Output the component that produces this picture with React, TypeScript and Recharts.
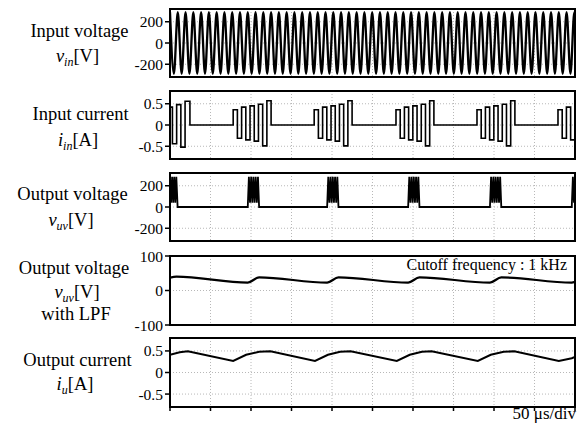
import { LineChart, Line, XAxis, YAxis, CartesianGrid, ReferenceArea } from 'recharts';

const FONT = '"Liberation Serif", "Times New Roman", Times, serif';

// time axis, µs (50 µs/div, 10 div)
const timeTicks = [0, 50, 100, 150, 200, 250, 300, 350, 400, 450, 500];

// input voltage: peaks of the fast sine, [µs, V]
const vinPeaks: [number, number][] = [
  [0, 290], [4.8, -290], [9.6, 290], [14.4, -290], [19.2, 290], [24, -290], [28.8, 290], [33.6, -290],
  [38.4, 290], [43.2, -290], [48, 290], [52.8, -290], [57.6, 290], [62.4, -290], [67.2, 290], [72, -290],
  [76.8, 290], [81.6, -290], [86.4, 290], [91.2, -290], [96, 290], [100.8, -290], [105.6, 290], [110.4, -290],
  [115.2, 290], [120, -290], [124.8, 290], [129.6, -290], [134.4, 290], [139.2, -290], [144, 290], [148.8, -290],
  [153.6, 290], [158.4, -290], [163.2, 290], [168, -290], [172.8, 290], [177.6, -290], [182.4, 290], [187.2, -290],
  [192, 290], [196.8, -290], [201.6, 290], [206.4, -290], [211.2, 290], [216, -290], [220.8, 290], [225.6, -290],
  [230.4, 290], [235.2, -290], [240, 290], [244.8, -290], [249.6, 290], [254.4, -290], [259.2, 290], [264, -290],
  [268.8, 290], [273.6, -290], [278.4, 290], [283.2, -290], [288, 290], [292.8, -290], [297.6, 290], [302.4, -290],
  [307.2, 290], [312, -290], [316.8, 290], [321.6, -290], [326.4, 290], [331.2, -290], [336, 290], [340.8, -290],
  [345.6, 290], [350.4, -290], [355.2, 290], [360, -290], [364.8, 290], [369.6, -290], [374.4, 290], [379.2, -290],
  [384, 290], [388.8, -290], [393.6, 290], [398.4, -290], [403.2, 290], [408, -290], [412.8, 290], [417.6, -290],
  [422.4, 290], [427.2, -290], [432, 290], [436.8, -290], [441.6, 290], [446.4, -290], [451.2, 290], [456, -290],
  [460.8, 290], [465.6, -290], [470.4, 290], [475.2, -290], [480, 290], [484.8, -290], [489.6, 290], [494.4, -290],
  [499.2, 290], [500, 270],
];

// input current, step points [µs, A]
const iinSteps: [number, number][] = [
  [0, 0.42], [3, -0.44], [8.2, 0.48], [13.4, -0.52], [18.6, 0.56], [24.6, 0],
  [78, 0.36], [83.2, -0.31], [88.4, 0.42], [93.6, -0.35], [98.8, 0.45], [104, -0.38], [109.2, 0.49], [114.4, -0.49], [119.6, 0.57], [124.8, 0],
  [178, 0.36], [183.2, -0.31], [188.4, 0.42], [193.6, -0.35], [198.8, 0.45], [204, -0.38], [209.2, 0.49], [214.4, -0.49], [219.6, 0.57], [224.8, 0],
  [279, 0.36], [284.2, -0.31], [289.4, 0.42], [294.6, -0.35], [299.8, 0.45], [305, -0.38], [310.2, 0.49], [315.4, -0.49], [320.6, 0.57], [325.8, 0],
  [379, 0.36], [384.2, -0.31], [389.4, 0.42], [394.6, -0.35], [399.8, 0.45], [405, -0.38], [410.2, 0.49], [415.4, -0.49], [420.6, 0.57], [425.8, 0],
  [479, 0.36], [484.2, -0.31], [489.4, 0.42], [494.6, -0.35], [499.8, 0.45], [500, 0.45],
];

// output voltage, [µs, V]
const vuvPoints: [number, number][] = [
  [0, 285], [1.3, 40], [2.6, 285], [3.9, 40], [5.2, 285], [6.5, 40], [7.8, 285], [9.4, 0],
  [96, 0], [97.4, 285], [98.8, 40], [100.2, 285], [101.6, 40], [103, 285], [104.4, 40], [105.8, 285], [107.2, 40], [108.6, 285], [110, 0],
  [194, 0], [195.4, 285], [196.8, 40], [198.2, 285], [199.6, 40], [201, 285], [202.4, 40], [203.8, 285], [205.2, 40], [206.6, 285], [208, 0],
  [294, 0], [295.4, 285], [296.8, 40], [298.2, 285], [299.6, 40], [301, 285], [302.4, 40], [303.8, 285], [305.2, 40], [306.6, 285], [308, 0],
  [395, 0], [396.4, 285], [397.8, 40], [399.2, 285], [400.6, 40], [402, 285], [403.4, 40], [404.8, 285], [406.2, 40], [407.6, 285], [409, 0],
  [496, 0], [497.4, 285], [498.8, 40], [500, 250],
];

// output voltage after LPF, [µs, V]
const vlpfPoints: [number, number][] = [
  [0, 37], [8, 40], [96, 23], [110, 38], [194, 23], [208, 38], [294, 23], [308, 38],
  [395, 23], [409, 38], [496, 23], [500, 25],
];

// output current, [µs, A]
const iuPoints: [number, number][] = [
  [0, 0.41], [12, 0.47], [22, 0.49], [78, 0.27], [94, 0.41], [110, 0.48], [124, 0.49],
  [179, 0.27], [195, 0.41], [210, 0.48], [223, 0.49], [280, 0.27], [296, 0.41], [311, 0.48], [323, 0.49],
  [380, 0.27], [396, 0.41], [412, 0.48], [425, 0.49], [480, 0.27], [496, 0.33], [500, 0.36],
];

const toRows = (pairs: [number, number][]) => pairs.map(([t, v]) => ({ t, v }));

interface PanelProps {
  rows: { t: number; v: number }[];
  top: number;
  plotHeight: number;
  domain: [number, number];
  ticks: number[];
  curve: 'linear' | 'monotone' | 'stepAfter';
  lineWidth: number;
  showTime?: boolean;
}

function Panel({ rows, top, plotHeight, domain, ticks, curve, lineWidth, showTime }: PanelProps) {
  const mTop = 9;
  const mBottom = showTime ? 3 : 9;
  const xHeight = showTime ? 6 : 0;
  return (
    <div style={{ position: 'absolute', left: 0, top: top - mTop }}>
      <LineChart
        width={582}
        height={plotHeight + mTop + mBottom + xHeight}
        data={rows}
        margin={{ top: mTop, right: 7, bottom: mBottom, left: 110 }}
      >
        <CartesianGrid stroke="#b8b8b8" strokeDasharray="1 2" />
        <XAxis
          type="number"
          dataKey="t"
          domain={[0, 500]}
          ticks={timeTicks}
          interval={0}
          allowDataOverflow
          tick={{ fontSize: 0 }}
          tickFormatter={() => ''}
          axisLine={false}
          tickLine={showTime ? { stroke: '#000', strokeWidth: 1.5 } : false}
          tickSize={4}
          height={xHeight}
        />
        <YAxis
          type="number"
          domain={domain}
          ticks={ticks}
          interval={0}
          allowDataOverflow
          width={60}
          axisLine={false}
          tickLine={{ stroke: '#000', strokeWidth: 1.5 }}
          tickSize={5}
          tickMargin={2}
          tick={{ fill: '#000', fontSize: 15.5, fontFamily: FONT }}
        />
        <Line
          type={curve}
          dataKey="v"
          stroke="#000"
          strokeWidth={lineWidth}
          dot={false}
          isAnimationActive={false}
        />
        <ReferenceArea
          x1={0}
          x2={500}
          y1={domain[0]}
          y2={domain[1]}
          fill="none"
          stroke="#000"
          strokeWidth={2}
          ifOverflow="visible"
        />
      </LineChart>
    </div>
  );
}

const labelStyle = { fontFamily: FONT, fontSize: 18.5, fill: '#000' };

export default function App() {
  return (
    <div style={{ position: 'absolute', left: 0, top: 0, width: 582, height: 425, background: '#fff' }}>
      <Panel rows={toRows(vinPeaks)} top={9} plotHeight={68} domain={[-320, 320]} ticks={[-200, 0, 200]} curve="monotone" lineWidth={2.3} />
      <Panel rows={toRows(iinSteps)} top={91} plotHeight={68} domain={[-0.8, 0.8]} ticks={[-0.5, 0, 0.5]} curve="stepAfter" lineWidth={1.6} />
      <Panel rows={toRows(vuvPoints)} top={173} plotHeight={68} domain={[-320, 320]} ticks={[-200, 0, 200]} curve="linear" lineWidth={1.8} />
      <Panel rows={toRows(vlpfPoints)} top={256} plotHeight={69} domain={[-100, 100]} ticks={[-100, 0, 100]} curve="monotone" lineWidth={2.2} />
      <Panel rows={toRows(iuPoints)} top={338} plotHeight={69} domain={[-0.8, 0.8]} ticks={[-0.5, 0, 0.5]} curve="linear" lineWidth={2} showTime />

      <svg width={582} height={425} style={{ position: 'absolute', left: 0, top: 0, pointerEvents: 'none' }}>
        <g style={labelStyle}>
          <text x={79.5} y={37} textAnchor="middle">Input voltage</text>
          <text x={77.5} y={62} textAnchor="middle">
            <tspan fontStyle="italic">v</tspan>
            <tspan fontStyle="italic" fontSize={12} dy={4}>in</tspan>
            <tspan dy={-4}>[V]</tspan>
          </text>

          <text x={80.5} y={120} textAnchor="middle">Input current</text>
          <text x={78} y={146} textAnchor="middle">
            <tspan fontStyle="italic">i</tspan>
            <tspan fontStyle="italic" fontSize={12} dy={4}>in</tspan>
            <tspan dy={-4}>[A]</tspan>
          </text>

          <text x={72.5} y={200} textAnchor="middle">Output voltage</text>
          <text x={71} y={226} textAnchor="middle">
            <tspan fontStyle="italic">v</tspan>
            <tspan fontStyle="italic" fontSize={12} dy={4}>uv</tspan>
            <tspan dy={-4}>[V]</tspan>
          </text>

          <text x={74} y={274} textAnchor="middle">Output voltage</text>
          <text x={77} y={298} textAnchor="middle">
            <tspan fontStyle="italic">v</tspan>
            <tspan fontStyle="italic" fontSize={12} dy={4}>uv</tspan>
            <tspan dy={-4}>[V]</tspan>
          </text>
          <text x={76} y={320} textAnchor="middle">with LPF</text>

          <text x={77.5} y={366} textAnchor="middle">Output current</text>
          <text x={75} y={390} textAnchor="middle">
            <tspan fontStyle="italic">i</tspan>
            <tspan fontStyle="italic" fontSize={12} dy={4}>u</tspan>
            <tspan dy={-4}>[A]</tspan>
          </text>
        </g>
        <text x={567} y={270} textAnchor="end" style={{ fontFamily: FONT, fontSize: 16, fill: '#000' }}>
          Cutoff frequency : 1 kHz
        </text>
        <text x={576} y={419} textAnchor="end" style={{ fontFamily: FONT, fontSize: 17, fill: '#000' }}>
          50 μs/div
        </text>
      </svg>
    </div>
  );
}
